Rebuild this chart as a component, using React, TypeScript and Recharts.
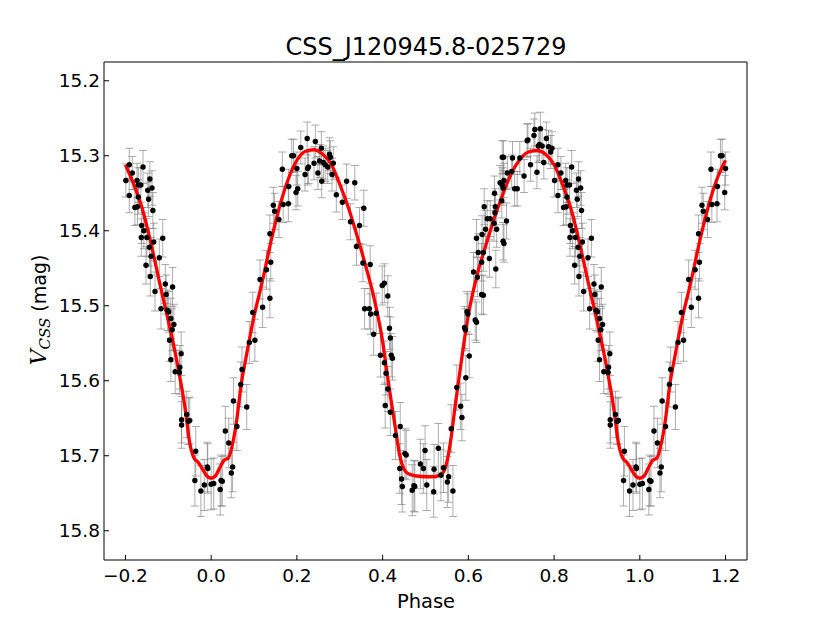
import { ComposedChart, Scatter, Line, XAxis, YAxis, ErrorBar } from 'recharts';

// phase, magnitude, error (phase 0..1, folded copies added below)
const basePoints: [number, number, number][] = [
  [0.000, 15.738, 0.034], [0.006, 15.737, 0.034], [0.021, 15.745, 0.034], [0.023, 15.733, 0.034],
  [0.026, 15.734, 0.033], [0.047, 15.723, 0.033], [0.050, 15.715, 0.033], [0.033, 15.667, 0.033],
  [0.041, 15.683, 0.033], [0.052, 15.627, 0.031], [0.060, 15.661, 0.032], [0.069, 15.605, 0.030],
  [0.072, 15.585, 0.030], [0.083, 15.635, 0.030], [0.089, 15.549, 0.028], [0.102, 15.546, 0.028],
  [0.097, 15.509, 0.027], [0.120, 15.502, 0.027], [0.114, 15.465, 0.026], [0.129, 15.452, 0.026],
  [0.137, 15.490, 0.026], [0.139, 15.442, 0.025], [0.137, 15.404, 0.025], [0.145, 15.366, 0.024],
  [0.148, 15.374, 0.024], [0.158, 15.385, 0.024], [0.166, 15.318, 0.023], [0.168, 15.365, 0.024],
  [0.180, 15.364, 0.024], [0.181, 15.341, 0.023], [0.198, 15.349, 0.023], [0.202, 15.344, 0.023],
  [0.188, 15.300, 0.022], [0.192, 15.300, 0.022], [0.200, 15.317, 0.022], [0.209, 15.289, 0.022],
  [0.219, 15.325, 0.022], [0.225, 15.317, 0.022], [0.227, 15.315, 0.022], [0.224, 15.277, 0.022],
  [0.243, 15.281, 0.022], [0.240, 15.310, 0.022], [0.249, 15.323, 0.022], [0.253, 15.307, 0.022],
  [0.257, 15.290, 0.022], [0.262, 15.309, 0.022], [0.266, 15.312, 0.022], [0.258, 15.334, 0.022],
  [0.276, 15.298, 0.022], [0.278, 15.302, 0.022], [0.272, 15.315, 0.022], [0.285, 15.310, 0.022],
  [0.282, 15.325, 0.022], [0.292, 15.352, 0.023], [0.306, 15.362, 0.023], [0.316, 15.334, 0.023],
  [0.335, 15.336, 0.023], [0.325, 15.388, 0.024], [0.346, 15.393, 0.024], [0.356, 15.370, 0.024],
  [0.339, 15.421, 0.025], [0.354, 15.443, 0.025], [0.371, 15.445, 0.025], [0.358, 15.504, 0.027],
  [0.369, 15.504, 0.027], [0.372, 15.511, 0.027], [0.379, 15.538, 0.028], [0.385, 15.510, 0.027],
  [0.399, 15.473, 0.026], [0.404, 15.470, 0.026], [0.412, 15.487, 0.027], [0.395, 15.566, 0.029],
  [0.404, 15.576, 0.029], [0.416, 15.530, 0.028], [0.418, 15.543, 0.028], [0.420, 15.566, 0.029],
  [0.423, 15.570, 0.029], [0.408, 15.590, 0.029], [0.412, 15.611, 0.030], [0.406, 15.633, 0.030],
  [0.418, 15.642, 0.031], [0.430, 15.673, 0.032], [0.441, 15.661, 0.032], [0.452, 15.697, 0.033],
  [0.455, 15.699, 0.033], [0.440, 15.717, 0.033], [0.444, 15.731, 0.034], [0.446, 15.741, 0.034],
  [0.469, 15.746, 0.034], [0.473, 15.740, 0.034], [0.475, 15.741, 0.034], [0.488, 15.711, 0.033],
  [0.499, 15.693, 0.033], [0.495, 15.717, 0.033], [0.503, 15.739, 0.034], [0.520, 15.718, 0.033],
  [0.530, 15.690, 0.033], [0.519, 15.748, 0.034], [0.536, 15.726, 0.034], [0.542, 15.716, 0.033],
  [0.554, 15.728, 0.034], [0.551, 15.735, 0.034], [0.564, 15.747, 0.034], [0.560, 15.664, 0.032],
  [0.585, 15.649, 0.031], [0.582, 15.634, 0.031], [0.573, 15.609, 0.030], [0.594, 15.596, 0.030],
  [0.602, 15.567, 0.029], [0.591, 15.529, 0.028], [0.593, 15.532, 0.028], [0.597, 15.508, 0.027],
  [0.599, 15.511, 0.027], [0.616, 15.519, 0.027], [0.619, 15.522, 0.027], [0.631, 15.485, 0.026],
  [0.635, 15.486, 0.026], [0.621, 15.462, 0.026], [0.612, 15.455, 0.026], [0.623, 15.429, 0.025],
  [0.635, 15.429, 0.025], [0.631, 15.442, 0.025], [0.619, 15.410, 0.025], [0.632, 15.405, 0.025],
  [0.640, 15.398, 0.025], [0.637, 15.368, 0.024], [0.644, 15.384, 0.024], [0.651, 15.384, 0.024],
  [0.649, 15.437, 0.025], [0.664, 15.451, 0.025], [0.660, 15.390, 0.024], [0.662, 15.376, 0.024],
  [0.663, 15.368, 0.024], [0.661, 15.350, 0.023], [0.666, 15.398, 0.024], [0.681, 15.414, 0.025],
  [0.683, 15.417, 0.025], [0.689, 15.387, 0.024], [0.678, 15.360, 0.023], [0.679, 15.339, 0.023],
  [0.681, 15.343, 0.023], [0.674, 15.336, 0.023], [0.683, 15.333, 0.023], [0.691, 15.323, 0.022],
  [0.701, 15.321, 0.022], [0.708, 15.344, 0.023], [0.714, 15.344, 0.023], [0.679, 15.302, 0.022],
  [0.682, 15.302, 0.022], [0.703, 15.303, 0.022], [0.720, 15.303, 0.022], [0.730, 15.327, 0.022],
  [0.737, 15.280, 0.022], [0.739, 15.279, 0.022], [0.745, 15.312, 0.022], [0.753, 15.273, 0.022],
  [0.755, 15.265, 0.022], [0.760, 15.322, 0.022], [0.763, 15.287, 0.022], [0.768, 15.264, 0.022],
  [0.766, 15.285, 0.022], [0.772, 15.287, 0.022], [0.782, 15.277, 0.022], [0.787, 15.288, 0.022],
  [0.795, 15.290, 0.022], [0.792, 15.295, 0.022], [0.776, 15.309, 0.022], [0.801, 15.333, 0.022],
  [0.809, 15.312, 0.022], [0.809, 15.353, 0.023], [0.816, 15.323, 0.022], [0.827, 15.333, 0.023],
  [0.830, 15.339, 0.023], [0.836, 15.339, 0.023], [0.841, 15.315, 0.022], [0.830, 15.355, 0.023],
  [0.822, 15.369, 0.024], [0.828, 15.368, 0.024], [0.852, 15.346, 0.023], [0.857, 15.331, 0.023],
  [0.862, 15.343, 0.023], [0.854, 15.358, 0.023], [0.864, 15.373, 0.024], [0.838, 15.393, 0.024],
  [0.843, 15.400, 0.024], [0.837, 15.409, 0.025], [0.850, 15.409, 0.025], [0.856, 15.422, 0.025],
  [0.866, 15.415, 0.025], [0.887, 15.410, 0.025], [0.860, 15.434, 0.025], [0.848, 15.446, 0.025],
  [0.858, 15.461, 0.026], [0.879, 15.436, 0.025], [0.869, 15.481, 0.026], [0.883, 15.504, 0.027],
  [0.893, 15.471, 0.026], [0.895, 15.485, 0.026], [0.910, 15.475, 0.026], [0.898, 15.506, 0.027],
  [0.901, 15.508, 0.027], [0.906, 15.517, 0.027], [0.913, 15.525, 0.027], [0.909, 15.532, 0.028],
  [0.903, 15.546, 0.028], [0.906, 15.572, 0.029], [0.930, 15.564, 0.029], [0.916, 15.588, 0.029],
  [0.927, 15.582, 0.029], [0.926, 15.589, 0.029], [0.931, 15.652, 0.031], [0.931, 15.659, 0.031],
  [0.943, 15.645, 0.031], [0.947, 15.654, 0.031], [0.950, 15.653, 0.031], [0.964, 15.694, 0.033],
  [0.962, 15.733, 0.034], [0.976, 15.747, 0.034], [0.984, 15.739, 0.034], [0.991, 15.715, 0.033],
  [0.992, 15.717, 0.033],
];

// fitted light curve, phase 0..1
const fitCurve: [number, number][] = [
  [0.00, 15.730], [0.01, 15.727], [0.02, 15.716], [0.03, 15.706], [0.04, 15.703], [0.05, 15.684],
  [0.06, 15.651], [0.07, 15.605], [0.08, 15.573], [0.10, 15.514], [0.12, 15.466], [0.14, 15.413],
  [0.16, 15.367], [0.18, 15.331], [0.20, 15.306], [0.22, 15.294], [0.24, 15.292], [0.26, 15.298],
  [0.28, 15.311], [0.30, 15.338], [0.32, 15.369], [0.34, 15.406], [0.36, 15.446], [0.38, 15.490],
  [0.40, 15.548], [0.41, 15.589], [0.42, 15.627], [0.43, 15.664], [0.44, 15.700], [0.45, 15.718],
  [0.46, 15.724], [0.48, 15.727], [0.50, 15.728], [0.52, 15.728], [0.54, 15.723], [0.55, 15.708],
  [0.56, 15.675], [0.57, 15.630], [0.58, 15.589], [0.59, 15.548], [0.60, 15.512], [0.62, 15.460],
  [0.64, 15.421], [0.66, 15.384], [0.68, 15.352], [0.70, 15.324], [0.72, 15.305], [0.74, 15.295],
  [0.76, 15.293], [0.78, 15.298], [0.80, 15.312], [0.82, 15.339], [0.84, 15.372], [0.86, 15.418],
  [0.88, 15.470], [0.90, 15.520], [0.92, 15.574], [0.94, 15.640], [0.95, 15.683], [0.96, 15.703],
  [0.97, 15.709], [0.98, 15.718], [0.99, 15.727],
];

const xTicks = [-0.2, 0, 0.2, 0.4, 0.6, 0.8, 1.0, 1.2];
const yTicks = [15.2, 15.3, 15.4, 15.5, 15.6, 15.7, 15.8];

// repeat the folded light curve so it spans phase -0.2 .. 1.2
function extend(phase: number): number[] {
  const out = [phase];
  if (phase >= 0.8) out.push(phase - 1);
  if (phase <= 0.2) out.push(phase + 1);
  return out;
}

const points = basePoints.flatMap(([p, m, e]) =>
  extend(p).map((phase) => ({ phase, mag: m, err: e }))
);

const curve = fitCurve
  .flatMap(([p, m]) => extend(p).map((phase) => ({ phase, mag: m })))
  .sort((a, b) => a.phase - b.phase);

const font = '"DejaVu Sans", sans-serif';
const tickStyle = { fill: '#000', fontSize: 18.5, fontFamily: font };
const xDomain: [number, number] = [-0.25, 1.25];
const yDomain: [number, number] = [15.175, 15.839];

const fmtX = (v: number) => (v < 0 ? '\u2212' : '') + Math.abs(v).toFixed(1);

const Dot = (props: any) => <circle cx={props.cx} cy={props.cy} r={2.7} fill="#000" />;

export default function App() {
  return (
    <div style={{ position: 'absolute', left: 0, top: 0, width: 830, height: 623, background: '#fff' }}>
      <ComposedChart width={830} height={623} margin={{ top: 61, right: 82, bottom: 33, left: 44 }}>
        <XAxis
          xAxisId="b"
          type="number"
          dataKey="phase"
          domain={xDomain}
          ticks={xTicks}
          interval={0}
          allowDataOverflow
          height={30}
          stroke="#000"
          tickSize={-5}
          tickMargin={14}
          tick={tickStyle}
          tickFormatter={fmtX}
        />
        <XAxis
          xAxisId="t"
          orientation="top"
          type="number"
          dataKey="phase"
          domain={xDomain}
          ticks={xTicks}
          interval={0}
          allowDataOverflow
          height={1}
          stroke="#000"
          tickSize={-5}
          tick={false}
        />
        <YAxis
          yAxisId="l"
          type="number"
          dataKey="mag"
          reversed
          domain={yDomain}
          ticks={yTicks}
          interval={0}
          allowDataOverflow
          width={60}
          stroke="#000"
          tickSize={-5}
          tickMargin={9}
          tick={tickStyle}
          tickFormatter={(v: number) => v.toFixed(1)}
        />
        <YAxis
          yAxisId="r"
          orientation="right"
          type="number"
          dataKey="mag"
          reversed
          domain={yDomain}
          ticks={yTicks}
          interval={0}
          allowDataOverflow
          width={1}
          stroke="#000"
          tickSize={-5}
          tick={false}
        />
        <Scatter
          xAxisId="b"
          yAxisId="l"
          data={points}
          dataKey="mag"
          shape={Dot}
          isAnimationActive={false}
        >
          <ErrorBar dataKey="err" direction="y" width={4} stroke="#777" strokeOpacity={0.6} strokeWidth={1} />
        </Scatter>
        <Line
          xAxisId="t"
          yAxisId="r"
          data={curve}
          dataKey="mag"
          type="monotone"
          stroke="#ff0000"
          strokeWidth={3.3}
          dot={false}
          activeDot={false}
          isAnimationActive={false}
        />
      </ComposedChart>
      <div style={{ position: 'absolute', left: 426, top: 55, transform: 'translate(-50%, -80%)', fontFamily: font, fontSize: 24, whiteSpace: 'nowrap' }}>
        CSS_J120945.8-025729
      </div>
      <div style={{ position: 'absolute', left: 426, top: 608, transform: 'translate(-50%, -80%)', fontFamily: font, fontSize: 19.5, whiteSpace: 'nowrap' }}>
        Phase
      </div>
      <div style={{ position: 'absolute', left: 38, top: 310, transform: 'translate(-50%, -50%) rotate(-90deg)', fontFamily: font, fontSize: 19, whiteSpace: 'nowrap' }}>
        <span style={{ fontFamily: '"DejaVu Serif", serif', fontStyle: 'italic', fontSize: 22 }}>V</span>
        <span style={{ fontFamily: '"DejaVu Serif", serif', fontStyle: 'italic', fontSize: 15, position: 'relative', top: 4 }}>CSS</span>
        {' (mag)'}
      </div>
    </div>
  );
}
